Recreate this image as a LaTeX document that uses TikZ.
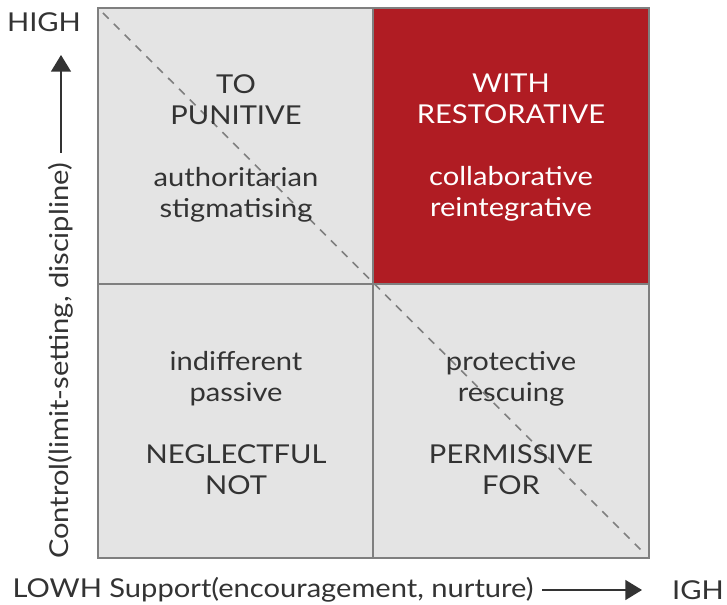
\documentclass[tikz,border=0pt]{standalone}
\usepackage{fontspec}
\setmainfont[FakeStretch=1.12]{Lato}
\usetikzlibrary{arrows.meta}
\definecolor{cellgray}{HTML}{E4E4E4}
\definecolor{framegray}{HTML}{7F7F7F}
\definecolor{withred}{HTML}{B01C23}
\definecolor{inkgray}{HTML}{333333}
\tikzset{
  celltext/.style={font=\fontsize{19.5}{23.25}\selectfont,text=inkgray,align=center},
  axistext/.style={font=\fontsize{19.5}{23.25}\selectfont,text=inkgray},
  axisarrow/.style={draw=inkgray,line width=1pt,-{Triangle[length=12.5pt,width=15pt]}},
}
\begin{document}
\begin{tikzpicture}[x=0.75pt,y=-0.75pt]
\useasboundingbox (0,0) rectangle (727,605);

% cells
\fill[cellgray] (98,8) rectangle (649,558);
\fill[withred] (373,8) rectangle (649,284);
\draw[framegray,line width=1.2pt,dash pattern=on 6pt off 5.5pt] (103,13) -- (645,554);
\draw[framegray,line width=1.5pt] (98,8) rectangle (649,558);
\draw[framegray,line width=1.5pt] (373,8) -- (373,558) (98,284) -- (649,284);

\node[celltext] (to) at (236,148) {TO\\PUNITIVE\\[23.25pt]authoritarian\\stigmatising};
\node[celltext,text=white] (with) at (511,148) {WITH\\RESTORATIVE\\[23.25pt]collaborative\\reintegrative};
\node[celltext] (not) at (236,423) {indifferent\\passive\\[23.25pt]NEGLECTFUL\\NOT};
\node[celltext] (for) at (511,423) {protective\\rescuing\\[23.25pt]PERMISSIVE\\FOR};

% axes
\node[axistext] (yhigh) at (44,22) {HIGH};
\node[axistext,rotate=90] (ylabel) at (61,361) {Control(limit-setting, discipline)};
\coordinate (ytip) at (61,55);
\draw[axisarrow] (ylabel.east) ++(0,-6) -- (ytip);

\node[axistext] (xlabel) at (273,590) {LOWH Support(encouragement, nurture)};
\coordinate (xtip) at (642,590);
\draw[axisarrow] (xlabel.east) ++(4,0) -- (xtip);
\node[axistext] (xhigh) at (698,590) {IGH};

\end{tikzpicture}
\end{document}
